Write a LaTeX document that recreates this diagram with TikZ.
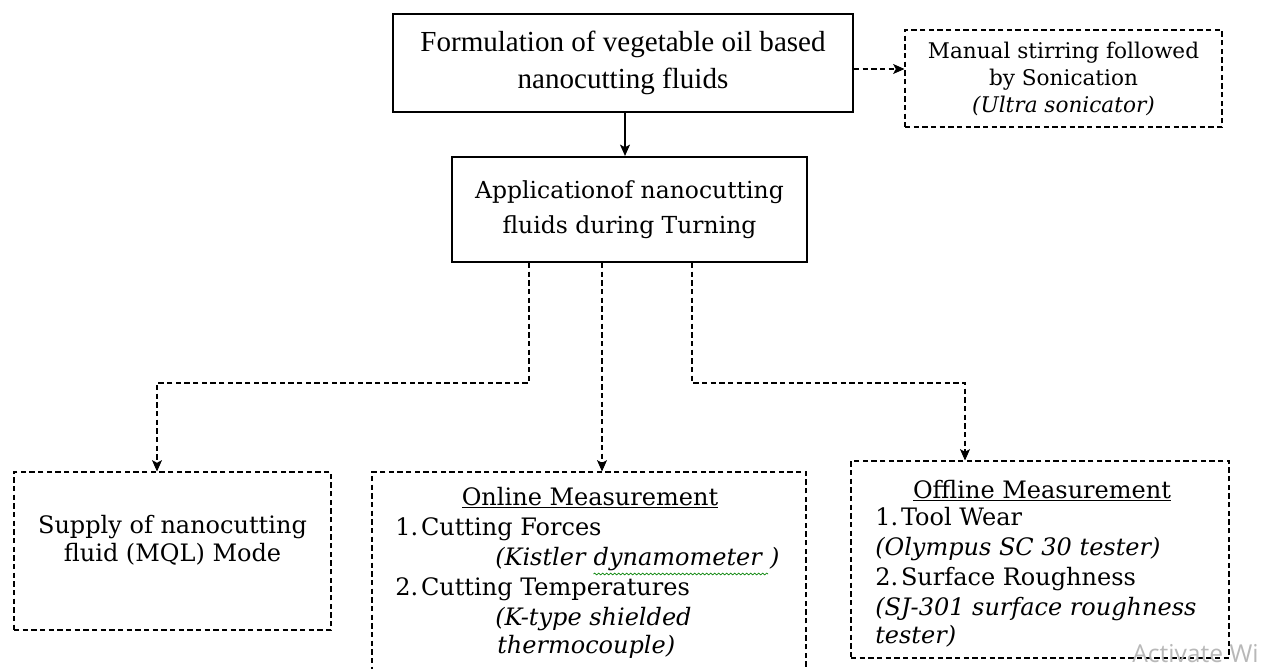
\documentclass[tikz,border=0pt]{standalone}
\usepackage{fontspec}
\setmainfont{DejaVu Serif}
\newfontfamily\timesf{Liberation Serif}
\newfontfamily\winf{Open Sans}
\usetikzlibrary{arrows.meta,decorations.pathmorphing,calc}
\newcommand{\nb}{.\hspace{0.12em}}
\begin{document}
\begin{tikzpicture}[x=0.75pt,y=-0.75pt,
  thickbox/.style={draw,line width=1.6pt,inner sep=0pt,align=center},
  dashbox/.style={draw,line width=0.8pt,dash pattern=on 4pt off 2.5pt,inner sep=0pt,align=center},
  dashline/.style={line width=0.8pt,dash pattern=on 4pt off 2.5pt},
  arr/.style={-{Stealth[length=8.5pt,width=7.5pt,inset=2pt]}},
  txt/.style={inner sep=0pt,anchor=base west,font=\fontsize{18pt}{22.5pt}\selectfont},
  ttl/.style={inner sep=0pt,anchor=base,font=\fontsize{18pt}{22.5pt}\selectfont}]
\useasboundingbox (0,0) rectangle (1282,668);
\clip (0,0) rectangle (1282,668);
% boxes
\node[thickbox,minimum width=345pt,minimum height=73.5pt,
  font=\timesf\fontsize{21.8pt}{27.75pt}\selectfont] (form) at (623,63)
  {Formulation of vegetable oil based\\nanocutting fluids};
\node[dashbox,minimum width=237.75pt,minimum height=72.75pt,
  font=\fontsize{16.2pt}{20.25pt}\selectfont] (man) at (1063.5,78.5)
  {Manual stirring followed\\by Sonication\\\textit{(Ultra sonicator)}};
\node[thickbox,minimum width=266.25pt,minimum height=78.75pt,
  font=\fontsize{17.6pt}{26.25pt}\selectfont] (app) at (629.5,209.5)
  {Applicationof nanocutting\\fluids during Turning};
\node[dashbox,minimum width=237.75pt,minimum height=118.5pt] (sup) at (172.5,551) {};
\node[dashbox,minimum width=325.5pt,minimum height=165pt] (onl) at (589,582) {};
\node[dashbox,minimum width=283.5pt,minimum height=147.75pt] (off) at (1040,559.5) {};
% supply text
\node[inner sep=0pt,align=center,font=\fontsize{18pt}{21pt}\selectfont] (suptxt) at (172.5,540)
  {Supply of nanocutting\\fluid (MQL) Mode};
% online texts
\node[ttl] (onlt) at (590,505) {\underline{Online Measurement}};
\node[txt] (on1) at (395,535) {1\nb Cutting Forces};
\node[txt] (on1a) at (495,565) {\itshape (Kistler\ \ };
\node[txt] (on1b) at (on1a.base east) {\itshape dynamometer};
\node[txt] (on1c) at (on1b.base east) {\itshape\ )};
\draw[green!50!black,line width=0.5pt,decorate,decoration={snake,amplitude=0.7pt,segment length=3pt}]
  ($(on1b.base west)+(0,9)$) -- ($(on1b.base east)+(6,9)$);
\node[txt] (on2) at (395,595) {2\nb Cutting Temperatures};
\node[txt] (on2a) at (495,625) {\itshape (K-type shielded};
\node[txt] (on2b) at (497,653) {\itshape thermocouple)};
% offline texts
\node[ttl] (offt) at (1042,498) {\underline{Offline Measurement}};
\node[txt] (of1) at (875,525) {1\nb Tool Wear};
\node[txt] (of1a) at (875,555) {\itshape (Olympus SC 30 tester)};
\node[txt] (of2) at (875,585) {2\nb Surface Roughness};
\node[txt] (of2a) at (875,615) {\itshape (SJ-301 surface roughness};
\node[txt] (of2b) at (875,643) {\itshape tester)};
% watermark
\node[inner sep=0pt,anchor=base west,text=black!28,font=\winf\fontsize{18.5pt}{22pt}\selectfont] (wm) at (1132,662) {Activate Wi};
% connectors
\coordinate (ya) at (0,69);
\draw[dashline,arr] (form.east |- ya) -- (man.west |- ya);
\draw[line width=0.9pt,arr] (form.south -| 625,0) -- (app.north -| 625,0);
\coordinate (l1) at (529,383);
\coordinate (l2) at (157,383);
\coordinate (r1) at (692,383);
\coordinate (r2) at (965,383);
\draw[dashline,arr] (app.south -| l1) -- (l1) -- (l2) -- (sup.north -| l2);
\draw[dashline,arr] (app.south -| 602,0) -- (onl.north -| 602,0);
\draw[dashline,arr] (app.south -| r1) -- (r1) -- (r2) -- (off.north -| r2);
\end{tikzpicture}
\end{document}
